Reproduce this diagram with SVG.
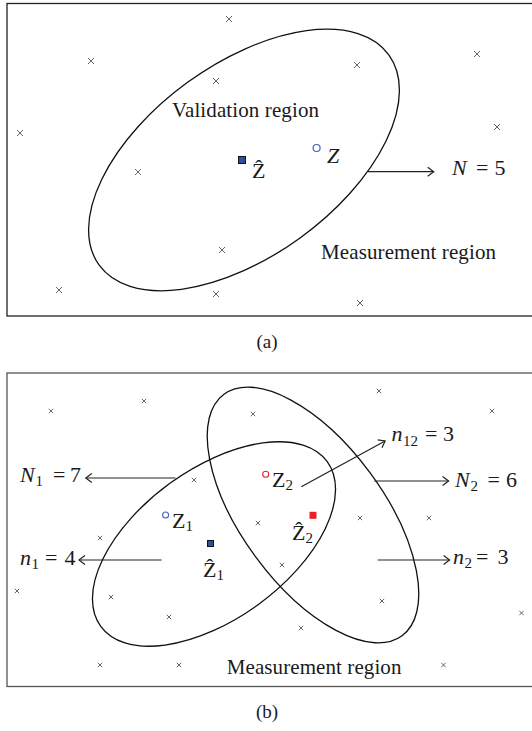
<svg xmlns="http://www.w3.org/2000/svg" xmlns:xlink="http://www.w3.org/1999/xlink" width="532" height="731" viewBox="0 0 532 731">
<style>
.frame{fill:none;stroke:#222;stroke-width:1.3}
.frame2{fill:none;stroke:#555;stroke-width:1.3}
.ell{fill:none;stroke:#111;stroke-width:1.3}
.xm{stroke:#555;stroke-width:0.9;fill:none}
.arr{stroke:#222;stroke-width:1.2;fill:none;marker-end:url(#ah)}
.t{font-family:"Liberation Serif","DejaVu Serif",serif;fill:#1a1a1a}
.it{font-style:italic}
</style>
<defs>
<marker id="ah" markerUnits="userSpaceOnUse" markerWidth="12" markerHeight="12" refX="9" refY="6" orient="auto">
<path d="M3,1.5 L9,6 L3,10.5" fill="none" stroke="#222" stroke-width="1.2"/>
</marker>
<path id="xa" d="M-3,-3L3,3M-3,3L3,-3" class="xm"/>
<path id="xb" d="M-2.2,-2.2L2.2,2.2M-2.2,2.2L2.2,-2.2" class="xm"/>
</defs>
<rect fill="#fff" x="0" y="0" width="532" height="731"/>

<g id="panel-a">
<rect class="frame" x="7" y="3.5" width="530" height="312.5"/>
<g id="measurements-a">
<use xlink:href="#xa" x="229" y="19"/>
<use xlink:href="#xa" x="91" y="61"/>
<use xlink:href="#xa" x="477" y="54"/>
<use xlink:href="#xa" x="216" y="81"/>
<use xlink:href="#xa" x="357" y="65"/>
<use xlink:href="#xa" x="20" y="133"/>
<use xlink:href="#xa" x="497" y="127"/>
<use xlink:href="#xa" x="138" y="172"/>
<use xlink:href="#xa" x="222" y="250"/>
<use xlink:href="#xa" x="59" y="290"/>
<use xlink:href="#xa" x="216" y="294"/>
<use xlink:href="#xa" x="360" y="303"/>
</g>
<g id="validation-a">
<ellipse class="ell" cx="244" cy="160" rx="179" ry="96" transform="rotate(-36 244 160)"/>
<text class="t" x="172" y="117" font-size="21" textLength="147">Validation region</text>
</g>
<g id="zhat-a">
<rect x="238.5" y="156.5" width="7" height="7" fill="#2f4f9f" stroke="#111" stroke-width="1"/>
<text class="t" x="252" y="178" font-size="22">Ẑ</text>
</g>
<g id="z-a">
<circle cx="316.6" cy="148" r="3.5" fill="none" stroke="#4064c4" stroke-width="1.2"/>
<text class="t it" x="327" y="163" font-size="22">Z</text>
</g>
<g id="label-N5">
<text class="t" y="175" font-size="22"><tspan class="it" x="452">N</tspan><tspan x="476">=</tspan><tspan x="494.5">5</tspan></text>
</g>
<text class="t" x="321" y="259" font-size="21" textLength="175">Measurement region</text>
</g>
<text class="t" x="267" y="348" font-size="19" text-anchor="middle">(a)</text>

<g id="panel-b">
<rect class="frame2" x="7" y="373" width="530" height="313.5"/>
<g id="measurements-b">
<use xlink:href="#xb" x="51" y="411"/>
<use xlink:href="#xb" x="144" y="401"/>
<use xlink:href="#xb" x="253" y="414"/>
<use xlink:href="#xb" x="379" y="391"/>
<use xlink:href="#xb" x="492" y="411"/>
<use xlink:href="#xb" x="194" y="480"/>
<use xlink:href="#xb" x="100" y="538"/>
<use xlink:href="#xb" x="258" y="523"/>
<use xlink:href="#xb" x="360" y="518"/>
<use xlink:href="#xb" x="429" y="518"/>
<use xlink:href="#xb" x="282" y="565"/>
<use xlink:href="#xb" x="17" y="591"/>
<use xlink:href="#xb" x="111" y="597"/>
<use xlink:href="#xb" x="169" y="617"/>
<use xlink:href="#xb" x="301" y="628"/>
<use xlink:href="#xb" x="382" y="601"/>
<use xlink:href="#xb" x="521.5" y="613"/>
<use xlink:href="#xb" x="100" y="665"/>
<use xlink:href="#xb" x="179" y="665"/>
<use xlink:href="#xb" x="443.5" y="665"/>
</g>
<g id="gate-1">
<ellipse class="ell" cx="214" cy="544" rx="140" ry="75" transform="rotate(-36 214 544)"/>
</g>
<g id="gate-2">
<ellipse class="ell" cx="313" cy="515" rx="150" ry="71" transform="rotate(53.6 313 515)"/>
</g>
<g id="z1">
<circle cx="165.6" cy="515" r="3" fill="none" stroke="#4064c4" stroke-width="1.1"/>
<text class="t" x="172" y="528" font-size="22">Z<tspan font-size="15" dy="3">1</tspan></text>
</g>
<g id="zhat1">
<rect x="207.5" y="540.5" width="6" height="6" fill="#2f4f9f" stroke="#111" stroke-width="1"/>
<text class="t" x="203" y="577" font-size="22">Ẑ<tspan font-size="15" dy="3">1</tspan></text>
</g>
<g id="z2">
<circle cx="265.7" cy="474.3" r="3" fill="none" stroke="#e8202a" stroke-width="1.1"/>
<text class="t" x="272" y="487" font-size="22">Z<tspan font-size="15" dy="3">2</tspan></text>
</g>
<g id="zhat2">
<rect x="309.5" y="511.8" width="7" height="7" fill="#e8202a"/>
<text class="t" x="292" y="540" font-size="22">Ẑ<tspan font-size="15" dy="3">2</tspan></text>
</g>
<g id="labels-b">
<text class="t" y="482" font-size="22"><tspan class="it" x="20">N</tspan><tspan font-size="15" x="35.5" dy="4">1</tspan><tspan x="53" dy="-4">=</tspan><tspan x="70">7</tspan></text>
<text class="t" y="565" font-size="22"><tspan class="it" x="20">n</tspan><tspan font-size="15" x="31.5" dy="4">1</tspan><tspan x="45" dy="-4">=</tspan><tspan x="64.5">4</tspan></text>
<text class="t" y="441" font-size="22"><tspan class="it" x="391.5">n</tspan><tspan font-size="15" x="403" dy="5">12</tspan><tspan x="425" dy="-5">=</tspan><tspan x="443">3</tspan></text>
<text class="t" y="487" font-size="22"><tspan class="it" x="455">N</tspan><tspan font-size="15" x="470.5" dy="4">2</tspan><tspan x="487.5" dy="-4">=</tspan><tspan x="506">6</tspan></text>
<text class="t" y="564" font-size="22"><tspan class="it" x="453">n</tspan><tspan font-size="15" x="464.5" dy="4">2</tspan><tspan x="476" dy="-4">=</tspan><tspan x="497.5">3</tspan></text>
</g>
<text class="t" x="226.7" y="674" font-size="21" textLength="174.7">Measurement region</text>
</g>
<text class="t" x="267" y="718" font-size="19" text-anchor="middle">(b)</text>

<g id="connectors">
<line class="arr" x1="368" y1="171.7" x2="433.7" y2="171.7"/>
<line class="arr" x1="175.4" y1="478" x2="85.8" y2="478"/>
<line class="arr" x1="161.5" y1="560" x2="79" y2="560"/>
<line class="arr" x1="301.3" y1="486.7" x2="385.1" y2="441"/>
<line class="arr" x1="374.3" y1="481" x2="448.6" y2="481"/>
<line class="arr" x1="377.7" y1="560" x2="449.6" y2="560"/>
</g>
</svg>
